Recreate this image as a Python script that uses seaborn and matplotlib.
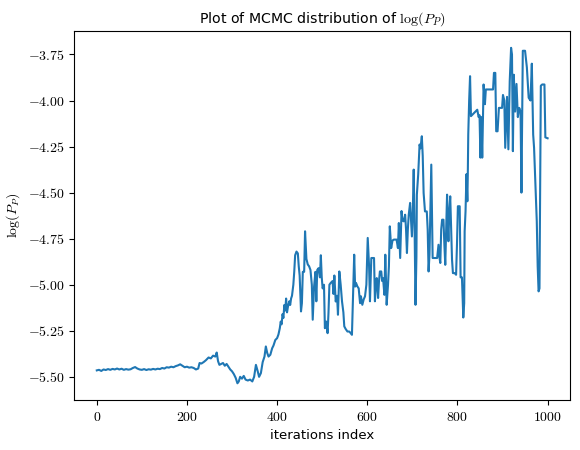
import matplotlib
matplotlib.use('Agg')
import matplotlib.pyplot as plt
import seaborn as sns
import pandas as pd

# iteration index and log(P_P)
iterations = [
    0, 5, 10, 15, 20, 25, 30, 35, 40, 45, 50, 55, 60, 65, 70, 75, 80, 85, 90, 95,
    100, 105, 110, 115, 120, 125, 130, 135, 140, 145, 150, 155, 160, 165, 170, 175,
    180, 185, 190, 195, 200, 205, 210, 215, 220, 225, 228, 232, 237, 242, 248, 253,
    258, 263, 266, 269, 272, 276, 280, 284, 288, 292, 296, 300, 304, 308, 312, 315,
    318, 322, 326, 330, 335, 340, 345, 349, 353, 357, 360, 364, 368, 372, 375, 378,
    381, 385, 389, 392, 396, 400,
    403, 406, 408, 410, 412, 414, 416, 418, 420, 422, 424, 427, 429, 431, 433, 436,
    438, 440, 443, 446, 448, 450, 453, 455, 457, 460, 462, 465, 468, 471, 474, 477,
    479, 482, 485, 487, 489, 492, 495, 497, 499, 501, 504, 506, 509, 512, 514, 516,
    519, 523, 525, 527, 530, 533, 535, 538, 541, 544, 547, 549, 552, 556, 560, 564,
    566, 569, 571, 573, 575, 578, 581, 584, 586, 589, 592, 595, 598, 601, 604,
    606, 609, 612, 615, 617, 619, 621, 624, 626, 628, 631, 633, 635, 638, 640, 643,
    646, 648, 650, 653, 656, 659, 662, 665, 668, 670, 673, 676, 678, 681, 684, 686,
    688, 690, 692, 695, 697, 699, 701, 703, 705, 707, 709, 710, 713, 716, 718, 721,
    723, 725, 728, 732, 734, 736, 738, 740, 742, 745, 748, 752, 755, 758, 760, 762,
    764, 766, 769, 771, 773, 775, 777, 779, 780, 782, 784, 786, 788, 790, 794, 797,
    799, 801, 805, 807, 810, 813, 815, 816, 818, 820, 822, 823, 824, 826, 828, 830,
    832, 836, 840, 844, 847, 849, 851, 853, 855, 858, 861, 863, 870, 879, 881, 884,
    886, 889, 892, 899, 901, 904, 906, 910, 913, 916, 919, 921, 923, 925, 928, 931,
    934, 937, 940, 942, 945, 950, 954, 958, 962, 965, 968, 970, 973, 976, 978, 980,
    982, 985, 988, 993, 995, 1000,
]

log_pp = [
    -5.465, -5.462, -5.468, -5.460, -5.463, -5.458, -5.462, -5.457, -5.460, -5.455,
    -5.460, -5.456, -5.462, -5.458, -5.461, -5.459, -5.452, -5.447, -5.455, -5.460,
    -5.462, -5.458, -5.463, -5.459, -5.461, -5.457, -5.460, -5.456, -5.458, -5.452,
    -5.455, -5.448, -5.450, -5.445, -5.448, -5.442, -5.438, -5.432, -5.440, -5.448,
    -5.445, -5.450, -5.448, -5.452, -5.460, -5.455, -5.425, -5.428, -5.420, -5.410,
    -5.395, -5.400, -5.385, -5.390, -5.368, -5.415, -5.435, -5.430, -5.425, -5.440,
    -5.430, -5.445, -5.460, -5.470, -5.485, -5.505, -5.535, -5.525, -5.500, -5.510,
    -5.495, -5.515, -5.520, -5.515, -5.525, -5.500, -5.435, -5.470, -5.500, -5.480,
    -5.420, -5.390, -5.335, -5.370, -5.390, -5.380, -5.345, -5.330, -5.300, -5.290,
    -5.270, -5.236, -5.200, -5.215, -5.160, -5.180, -5.110, -5.140, -5.075, -5.150,
    -5.120, -5.090, -5.110, -5.075, -5.060, -5.000, -4.930, -4.840, -4.820, -4.830,
    -4.900, -4.950, -5.145, -5.100, -4.930, -4.930, -4.710, -4.860, -4.890, -4.900,
    -4.920, -5.000, -5.190, -5.010, -4.930, -5.090, -4.920, -4.910, -4.960, -4.840,
    -4.960, -5.020, -5.000, -5.236, -5.200, -5.263, -5.150, -5.000, -4.990, -4.980,
    -5.050, -4.950, -5.091, -5.060, -5.163, -4.928, -5.000, -5.091, -5.150, -5.226,
    -5.240, -5.254, -5.254, -5.265, -5.272, -5.000, -4.837, -5.010, -4.990, -5.009,
    -5.020, -5.100, -5.063, -5.109, -5.080, -5.063, -5.000, -4.746, -4.900,
    -5.090, -4.855, -4.855, -4.855, -5.090, -5.000, -4.964, -5.072, -4.980, -4.928,
    -4.928, -4.980, -4.964, -5.055, -4.837, -5.109, -5.000, -4.900, -4.683, -4.801,
    -4.760, -4.755, -4.755, -4.755, -4.801, -4.665, -4.855, -4.600, -4.650, -4.656,
    -4.620, -4.700, -4.828, -4.700, -4.620, -4.556, -4.650, -4.738, -4.600, -4.375,
    -4.700, -5.109, -4.850, -4.511, -4.400, -4.239, -4.260, -4.194, -4.300, -4.502,
    -4.602, -4.602, -4.700, -4.928, -4.837, -4.600, -4.348, -4.855, -4.855, -4.855,
    -4.855, -4.783, -4.850, -4.882, -4.700, -4.647, -4.647, -4.780, -4.892, -4.700,
    -4.511, -4.700, -4.764, -4.600, -4.520, -4.700, -4.864, -4.937, -4.937, -4.946,
    -4.780, -4.574, -4.574, -4.960, -4.960, -5.178, -5.100, -4.710, -4.600, -4.400,
    -4.547, -4.400, -4.185, -4.000, -3.868, -4.085, -4.080, -4.070, -4.060, -4.050,
    -4.090, -4.080, -4.310, -4.090, -4.310, -3.913, -4.020, -3.940, -3.940, -3.940,
    -3.850, -3.850, -4.167, -4.167, -4.040, -4.040, -3.970, -4.000, -4.257, -3.980,
    -4.265, -3.895, -3.714, -3.750, -4.275, -3.860, -4.060, -3.910, -4.090, -4.040,
    -4.060, -4.500, -3.730, -3.730, -3.820, -3.985, -4.000, -3.800, -4.185, -4.257,
    -4.457, -4.656, -4.900, -5.036, -5.020, -3.920, -3.913, -3.913, -4.200, -4.205,
]

plt.rcParams['mathtext.fontset'] = 'cm'
plt.rcParams['axes.formatter.use_mathtext'] = True
plt.rcParams['font.family'] = ['DejaVu Sans']

df = pd.DataFrame({'iteration': iterations, 'log_pp': log_pp})

fig, ax = plt.subplots(figsize=(5.8, 4.5), dpi=100)
sns.lineplot(data=df, x='iteration', y='log_pp', estimator=None, color='#1f77b4',
             linewidth=1.5, ax=ax)

ax.set_xticks([0, 200, 400, 600, 800, 1000])
ax.set_xticklabels(['$0$', '$200$', '$400$', '$600$', '$800$', '$1000$'])
yt = [-5.50, -5.25, -5.00, -4.75, -4.50, -4.25, -4.00, -3.75]
ax.set_yticks(yt)
ax.set_yticklabels(['$%.2f$' % v for v in yt])

ax.set_title(r'Plot of MCMC distribution of $\log(P_P)$', fontsize=10.2)
ax.set_xlabel('iterations index', fontsize=9.5)
ax.set_ylabel(r'$\log(P_P)$', fontsize=10)

fig.subplots_adjust(left=0.128, right=0.983, bottom=0.111, top=0.931)
fig.savefig('out.png', dpi=100)
